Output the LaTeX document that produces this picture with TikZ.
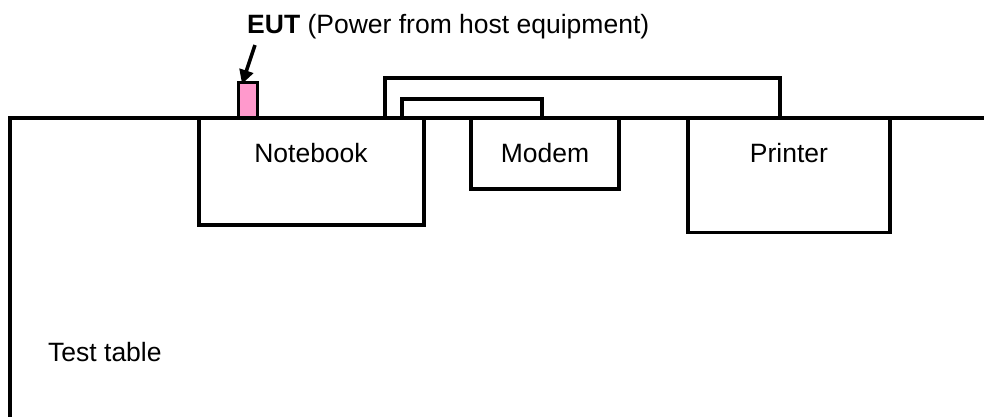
\documentclass[tikz,border=0pt]{standalone}
\usepackage{fontspec}
\setmainfont{Liberation Sans}
\usetikzlibrary{arrows.meta}
\begin{document}
\begin{tikzpicture}[x=1pt,y=-1pt,
  lw/.style={line width=3.3pt},
  box/.style={draw,lw,rectangle,inner sep=0pt,outer sep=0pt},
  txt/.style={font=\fontsize{26.5}{31}\selectfont,inner sep=0pt,anchor=base},
  cable/.style={draw,lw,line join=miter}]
\useasboundingbox (0,0) rectangle (984,416);
% test table
\coordinate (tr) at (990,118);
\coordinate (tl) at (10,118);
\coordinate (tb) at (10,425);
\draw[lw,line join=miter] (tr) -- (tl) -- (tb);
% devices
\node[box,minimum width=225pt,minimum height=107pt] (nb) at (311.5,171.5) {};
\node[box,minimum width=148pt,minimum height=71pt] (mo) at (545,153.5) {};
\node[box,minimum width=202pt,minimum height=114.5pt] (pr) at (789,175.25) {};
\node[txt] (nbt) at (311,162.3) {Notebook};
\node[txt] (mot) at (545,162.3) {Modem};
\node[txt] (prt) at (789,162.3) {Printer};
\node[txt,anchor=base west] (tt) at (48,361.7) {Test table};
% cables
\draw[cable] ([xshift=73.5pt]nb.north) -- ++(0,-40) -| ([xshift=-9pt]pr.north);
\draw[cable] ([xshift=90.5pt]nb.north) -- ++(0,-19) -| ([xshift=-3pt]mo.north);
% EUT
\node[box,fill={rgb,255:red,255;green,153;blue,204},minimum width=19pt,minimum height=35.5pt] (eut) at (248,100.25) {};
\node[txt,anchor=base west] (lbl) at (247,33.3) {\textbf{EUT} (Power from host equipment)};
\coordinate (at) at (255,45);
\draw[line width=3.5pt,-{Triangle[length=14pt,width=14pt]}] (at) -- ([xshift=-6pt,yshift=-1.5pt]eut.north);
\end{tikzpicture}
\end{document}
